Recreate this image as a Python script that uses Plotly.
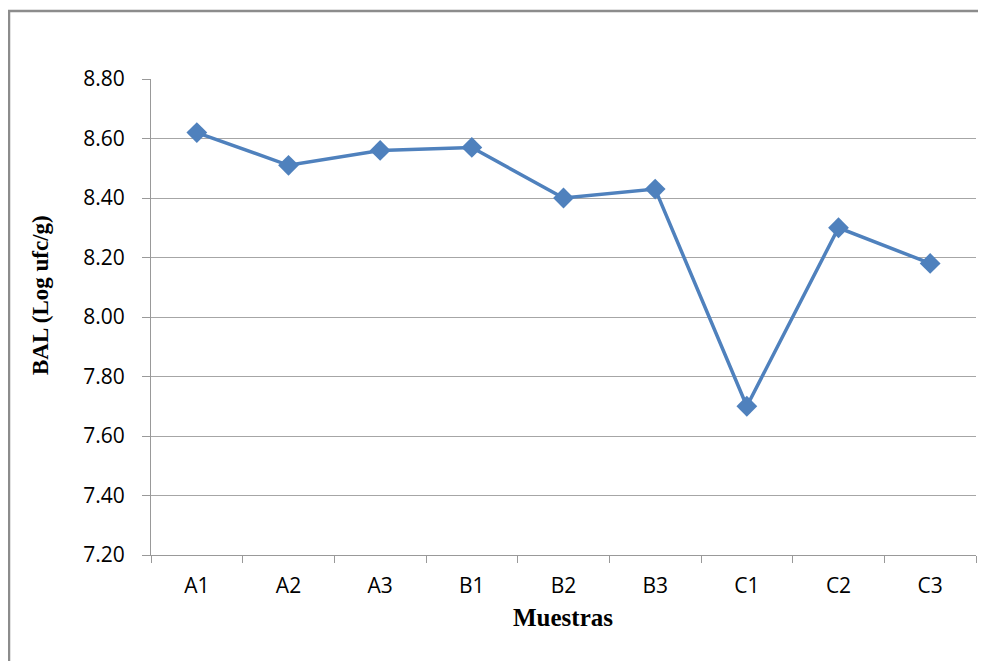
import plotly.graph_objects as go

categories = ["A1", "A2", "A3", "B1", "B2", "B3", "C1", "C2", "C3"]
bal_values = [8.62, 8.51, 8.56, 8.57, 8.40, 8.43, 7.70, 8.30, 8.18]
y_ticks = [7.20, 7.40, 7.60, 7.80, 8.00, 8.20, 8.40, 8.60, 8.80]
y_tick_labels = [f"{v:.2f}" for v in y_ticks]

OFF = 8  # default page body margin
W, H = 986 - OFF, 661 - OFF
L, R, T, B = 151 - OFF, 10, 79 - OFF, 106
pw, ph = W - L - R, H - T - B

def px_x(px):
    return (px - OFF - L) / pw

def px_y(py):
    return (H - B - (py - OFF)) / ph

fig = go.Figure()
fig.add_trace(go.Scatter(
    x=categories, y=bal_values, mode="lines+markers",
    line=dict(color="#4F81BD", width=3.5),
    marker=dict(symbol="diamond", size=16, color="#4F81BD"),
    showlegend=False,
))

fig.update_layout(
    width=W, height=H,
    margin=dict(l=L, r=R, t=T, b=B),
    paper_bgcolor="white", plot_bgcolor="white",
    xaxis=dict(
        type="category", range=[-0.5, len(categories) - 0.5],
        tickson="boundaries", ticks="outside", ticklen=7, tickcolor="#999",
        showgrid=False, showline=True, linecolor="#999", linewidth=1,
        tickfont=dict(family="Open Sans", size=21, color="#000"),
        ticklabelstandoff=12,
    ),
    yaxis=dict(
        range=[7.2, 8.8], tickvals=y_ticks, ticktext=y_tick_labels,
        ticks="outside", ticklen=8, tickcolor="#999",
        showgrid=True, gridcolor="#A6A6A6", gridwidth=1,
        showline=True, linecolor="#999", linewidth=1, zeroline=False,
        tickfont=dict(family="Open Sans", size=21, color="#000"),
        ticklabelstandoff=13,
    ),
    annotations=[
        dict(text="<b>Muestras</b>", xref="paper", yref="paper",
             x=px_x(563), y=px_y(617), xanchor="center", yanchor="middle",
             showarrow=False, font=dict(family="Liberation Serif", size=25, color="#000")),
        dict(text="<b>BAL (Log ufc/g)</b>", xref="paper", yref="paper",
             x=px_x(40), y=px_y(295), xanchor="center", yanchor="middle", textangle=-90,
             showarrow=False, font=dict(family="Liberation Serif", size=23, color="#000")),
    ],
    shapes=[dict(
        type="rect", xref="paper", yref="paper",
        x0=px_x(9), x1=px_x(1000), y0=px_y(680), y1=px_y(11),
        line=dict(color="#8C8C8C", width=2.5), fillcolor="rgba(0,0,0,0)", layer="below",
    )],
)

fig.write_html("out.html")
